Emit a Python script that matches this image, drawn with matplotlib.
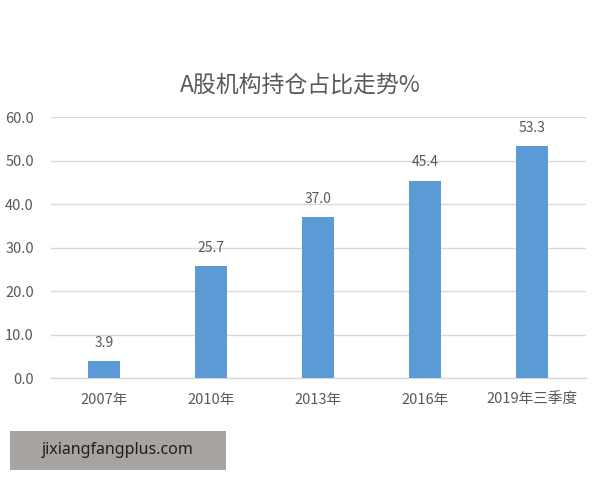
import matplotlib
matplotlib.use("Agg")
import matplotlib.pyplot as plt
from matplotlib.patches import Rectangle

plt.rcParams['font.family'] = ['Noto Sans CJK SC', 'DejaVu Sans']

categories = ['2007年', '2010年', '2013年', '2016年', '2019年三季度']
values = [3.9, 25.7, 37.0, 45.4, 53.3]
yticks = [0, 10, 20, 30, 40, 50, 60]

text_color = '#595959'
bar_color = '#5b9bd5'
grid_color = '#d9d9d9'

fig = plt.figure(figsize=(6, 4.8), dpi=100)
ax = fig.add_axes([0.0842, 0.2125, 0.8917, 0.5437])

x = list(range(len(categories)))
bars = ax.bar(x, values, width=0.30, color=bar_color, zorder=3)

for xi, v in zip(x, values):
    ax.annotate(f'{v:.1f}', (xi, v), xytext=(0, 8), textcoords='offset points',
                ha='center', va='bottom', fontsize=10, color=text_color)

ax.set_xlim(-0.5, len(categories) - 0.5)
ax.set_ylim(0, 60)
ax.set_yticks(yticks)
ax.set_yticklabels([f'{t:.1f}' for t in yticks])
ax.set_xticks(x)
ax.set_xticklabels(categories)
ax.tick_params(axis='both', length=0, labelsize=10.5, labelcolor=text_color)
ax.tick_params(axis='y', pad=12)
ax.tick_params(axis='x', pad=11)

ax.grid(axis='y', color=grid_color, linewidth=1, zorder=0)
for s in ['top', 'right', 'left']:
    ax.spines[s].set_visible(False)
ax.spines['bottom'].set_color(grid_color)
ax.spines['bottom'].set_linewidth(1)

fig.text(0.5, 0.823, 'A股机构持仓占比走势%', ha='center', va='center',
         fontsize=16.5, color=text_color)

# watermark box
fig.patches.append(Rectangle((10 / 600, 1 - 470 / 480), 216 / 600, 39 / 480,
                             transform=fig.transFigure, facecolor='#a7a3a0',
                             edgecolor='none'))
fig.text(118 / 600, 1 - 450 / 480, 'jixiangfangplus.com', ha='center', va='center',
         fontsize=11.5, color='#1e1e1e', family=['Noto Sans', 'DejaVu Sans'])

fig.savefig('out.png', dpi=100)
